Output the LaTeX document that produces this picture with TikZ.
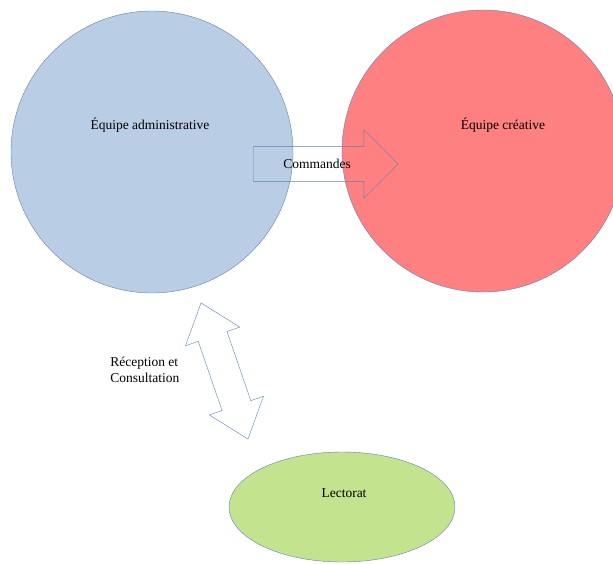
\documentclass[tikz,border=0pt]{standalone}
\usepackage{fontspec}
\setmainfont{Liberation Serif}
\usetikzlibrary{shapes.geometric,shapes.arrows}

\definecolor{admfill}{HTML}{B9CDE5}
\definecolor{crefill}{HTML}{FF8080}
\definecolor{lecfill}{HTML}{C3E38F}
\definecolor{rimblue}{HTML}{5F82B4}
\definecolor{arrowblue}{HTML}{5A80B8}

\begin{document}
\begin{tikzpicture}[
    x = 1pt, y = -1pt, % pixel grid of the reference
    font = \fontsize{13.5}{16}\selectfont,
    semithick % line style
    ]

    \tikzset{
    team/.style = {circle, draw = rimblue, thin, minimum size = 282pt, inner sep = 0pt},
    flow/.style = {draw = arrowblue, thin, inner xsep = 0pt}
    }
    \useasboundingbox (0,0) rectangle (613,563);
    \clip (0,0) rectangle (613,563);

    \node[team, fill = admfill] (adm) at (152,152) {};
    \node[team, fill = crefill] (cre) at (483,151) {};
    \node[ellipse, draw = rimblue, thin, fill = lecfill,
          minimum width = 226pt, minimum height = 110pt] (lec) at (342,507) {};

    \node (admtext) at (150,125) {Équipe administrative};
    \node (cretext) at (503,125) {Équipe créative};
    \node (lectext) at (344,493) {Lectorat};

    \node[flow, single arrow, inner ysep = 12.4pt, single arrow head extend = 17pt,
          minimum height = 145pt, anchor = tail] (cmd) at (253,164) {Commandes};

    \node[flow, double arrow, inner ysep = 15pt, double arrow head extend = 13.5pt,
          double arrow tip angle = 78, minimum height = 144pt, minimum width = 0pt,
          rotate = -71] (recep) at (224.5,371) {};
    \node[align = left, anchor = west, inner sep = 0pt] (receptext) at (110,370)
          {Réception et\\Consultation};
\end{tikzpicture}
\end{document}
